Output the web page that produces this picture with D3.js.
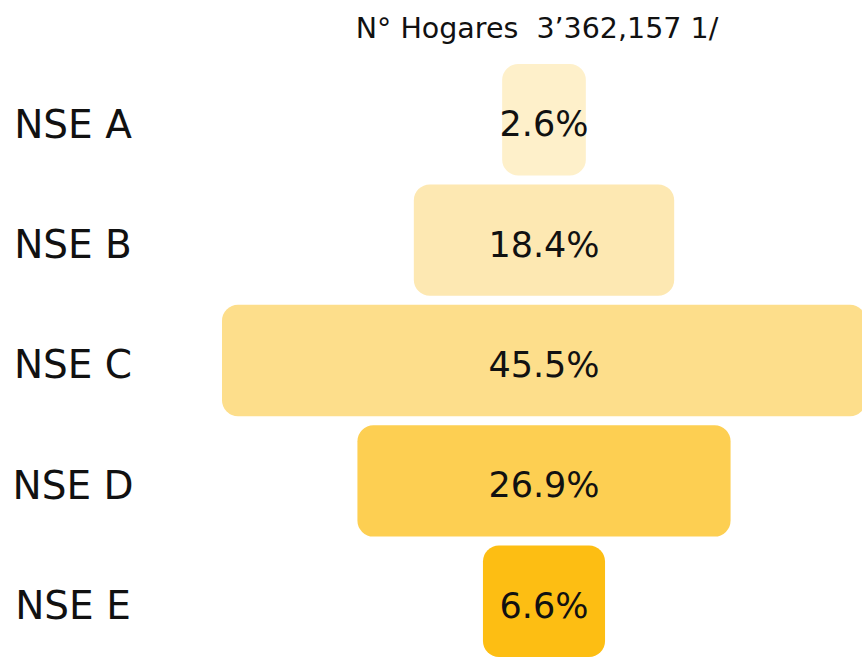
<!DOCTYPE html>
<html>
<head>
<meta charset="utf-8">
<script src="https://cdn.jsdelivr.net/npm/d3@7"></script>
<style>
  html, body { margin: 0; padding: 0; background: #fff; }
  svg { display: block; }
  text { font-family: "DejaVu Sans", sans-serif; fill: #111; white-space: pre; }
</style>
</head>
<body>
<svg id="chart" width="862" height="657"></svg>
<script>
"use strict";

// Data
var categories = ["NSE A", "NSE B", "NSE C", "NSE D", "NSE E"];
var shares = [2.6, 18.4, 45.5, 26.9, 6.6];
var colors = ["#fef0ca", "#fde8b2", "#fdde8b", "#fdcf52", "#fdbe13"];
var title = "N\u00b0 Hogares  3\u2019362,157 1/";

var width = 862,
    height = 657;

var svg = d3.select("#chart");

var centerX = 544;

var y = d3.scaleBand()
    .domain(categories)
    .range([64, 657])
    .paddingInner(0.075)
    .paddingOuter(0)
;

// funnel widths, slightly compressed for small shares
var w = d3.scalePow()
    .exponent(1.2)
    .domain([0, d3.max(shares)])
    .range([65, 644])
;

var rows = svg.selectAll("g.row")
    .data(categories)
    .enter()
    .append("g")
    .attr("class", "row")
;

rows.append("rect")
    .attr("x", function(d, i) { return centerX - w(shares[i]) / 2; })
    .attr("y", function(d) { return y(d); })
    .attr("width", function(d, i) { return w(shares[i]); })
    .attr("height", y.bandwidth())
    .attr("rx", 16)
    .attr("ry", 16)
    .style("fill", function(d, i) { return colors[i]; })
;

rows.append("text")
    .attr("x", centerX)
    .attr("y", function(d) { return y(d) + y.bandwidth() / 2; })
    .attr("dy", "0.47em")
    .attr("text-anchor", "middle")
    .style("font-size", "35px")
    .text(function(d, i) { return shares[i].toFixed(1) + "%"; })
;

// Category labels
rows.append("text")
    .attr("x", 73)
    .attr("y", function(d) { return y(d) + y.bandwidth() / 2; })
    .attr("dy", "0.46em")
    .attr("text-anchor", "middle")
    .style("font-size", "39px")
    .text(function(d) { return d; })
;

svg.append("text")
    .attr("x", 537)
    .attr("y", 38)
    .attr("text-anchor", "middle")
    .style("font-size", "28.5px")
    .text(title)
;
</script>
</body>
</html>
